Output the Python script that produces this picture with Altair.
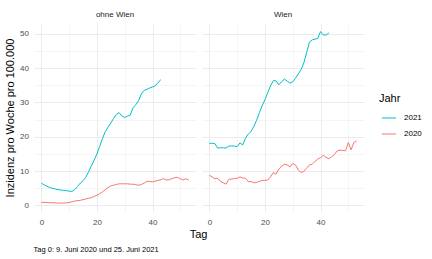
import altair as alt
import pandas as pd

days_2020 = list(range(54))
days_2021 = list(range(44))

ohne_2020 = [0.9, 0.9, 0.85, 0.8, 0.8, 0.75, 0.7, 0.7, 0.7, 0.75, 0.85, 1.1, 1.3, 1.4, 1.5, 1.7, 1.9, 2.1,
             2.3, 2.6, 3.0, 3.4, 4.0, 4.6, 5.2, 5.7, 5.9, 6.1, 6.3, 6.3, 6.3, 6.3, 6.2, 6.2, 6.0, 5.9,
             6.1, 6.5, 7.0, 7.0, 6.9, 7.1, 7.3, 7.5, 7.8, 7.4, 7.5, 7.8, 8.1, 8.2, 7.8, 7.4, 7.8, 7.4]
ohne_2021 = [6.5, 6.0, 5.6, 5.2, 5.0, 4.8, 4.6, 4.5, 4.4, 4.3, 4.2, 4.1, 4.6, 5.5, 6.5, 7.2, 8.2, 9.8,
             11.5, 13.2, 15.0, 17.2, 19.5, 21.5, 22.8, 24.0, 25.3, 26.5, 27.0, 26.0, 25.6, 26.0, 26.3,
             28.5, 29.3, 30.5, 32.5, 33.5, 33.8, 34.2, 34.5, 34.8, 35.8, 36.6]
wien_2020 = [8.8, 8.3, 7.8, 7.9, 7.0, 6.6, 6.2, 7.6, 7.7, 7.8, 7.9, 8.3, 8.0, 7.9, 6.9, 7.0, 6.6, 6.7,
             7.0, 7.3, 7.3, 7.4, 8.3, 9.6, 9.1, 10.6, 11.4, 12.0, 11.8, 11.2, 12.2, 11.8, 10.3, 9.6,
             9.9, 10.8, 11.8, 12.0, 12.8, 13.5, 13.9, 14.6, 14.0, 13.6, 14.2, 14.8, 15.9, 16.1, 16.0,
             15.9, 18.3, 16.2, 18.3, 18.8]
wien_2021 = [18.1, 18.1, 18.0, 16.7, 16.8, 16.8, 16.7, 17.3, 17.3, 17.3, 17.1, 18.2, 17.6, 19.6, 20.8,
             21.5, 23.0, 24.8, 27.0, 29.0, 30.8, 32.8, 34.8, 36.3, 36.3, 35.1, 36.0, 36.8, 36.2, 35.6,
             36.0, 37.0, 38.3, 39.5, 41.5, 44.5, 47.5, 48.2, 48.4, 48.6, 50.6, 49.6, 49.6, 50.2]

regions = ["ohne Wien", "Wien"]
years = ["2021", "2020"]
colors = ["#00BFC4", "#F8766D"]
caption = "Tag 0: 9. Juni 2020 und 25. Juni 2021"

rows = []
for region, jahr, days, vals in [
    ("ohne Wien", "2020", days_2020, ohne_2020),
    ("ohne Wien", "2021", days_2021, ohne_2021),
    ("Wien", "2020", days_2020, wien_2020),
    ("Wien", "2021", days_2021, wien_2021),
]:
    for d, v in zip(days, vals):
        rows.append({"Region": region, "Jahr": jahr, "Tag": d, "Inzidenz": v})
df = pd.DataFrame(rows)

FONT = "Liberation Sans"

color = alt.Color(
    "Jahr:N",
    scale=alt.Scale(domain=years, range=colors),
    legend=alt.Legend(title="Jahr", symbolType="stroke", orient="none", legendX=345, legendY=70,
                      titleFontSize=11, titleFontWeight="normal", titleColor="black",
                      labelFontSize=8, labelColor="black", symbolStrokeWidth=1, symbolSize=200,
                      titleFont=FONT, labelFont=FONT, rowPadding=4, titlePadding=6,
                      symbolOffset=2, labelOffset=7, padding=0),
)

grid_expr_x = {"expr": "datum.value % 20 === 0 ? 1 : 0.5"}
grid_expr_y = {"expr": "datum.value % 10 === 0 ? 1 : 0.5"}


def panel(region, first):
    xaxis = alt.Axis(values=[0, 10, 20, 30, 40, 50], labelExpr="datum.value % 20 === 0 ? datum.label : ''",
                     gridWidth=grid_expr_x, title="Tag" if first else None, titleX=164,
                     titleFontSize=11, titleFontWeight="normal", titleColor="black", titlePadding=2,
                     titleFont=FONT, labelPadding=6.5)
    if first:
        yaxis = alt.Axis(values=[0, 5, 10, 15, 20, 25, 30, 35, 40, 45, 50],
                         labelExpr="datum.value % 10 === 0 ? datum.label : ''",
                         gridWidth=grid_expr_y, title="Inzidenz pro Woche pro 100.000",
                         titleFontSize=11, titleFontWeight="normal", titleColor="black",
                         titleFont=FONT, labelPadding=5.5, titlePadding=4)
    else:
        yaxis = alt.Axis(values=[0, 5, 10, 15, 20, 25, 30, 35, 40, 45, 50], labels=False, title=None,
                         gridWidth=grid_expr_y)
    return (
        alt.Chart(df)
        .transform_filter(alt.datum.Region == region)
        .mark_line(strokeWidth=1)
        .encode(
            x=alt.X("Tag:Q", scale=alt.Scale(domain=[-2.65, 55.65], nice=False, zero=False), axis=xaxis),
            y=alt.Y("Inzidenz:Q", scale=alt.Scale(domain=[-1.9, 53.1], nice=False, zero=False),
                    axis=yaxis),
            color=color,
        )
        .properties(width=162, height=189,
                    title=alt.TitleParams(region, fontSize=8, fontWeight="normal", color="#1a1a1a",
                                          font=FONT, anchor="middle", offset=4.5))
    )


chart = (
    alt.hconcat(panel("ohne Wien", True), panel("Wien", False), spacing=6, bounds="flush")
    .properties(
        title=alt.TitleParams(caption, orient="bottom", anchor="start", fontSize=7.5,
                              fontWeight="normal", color="black", font=FONT, offset=6.5, dx=29),
        padding={"left": 4, "top": 10, "right": 5, "bottom": 0},
    )
    .configure_axis(domain=False, ticks=False, gridColor="#ebebeb", labelColor="#4d4d4d",
                    labelFontSize=8, labelFont=FONT)
    .configure_view(stroke=None)
)

chart.save("out.html", embed_options={"renderer": "svg", "actions": False})
